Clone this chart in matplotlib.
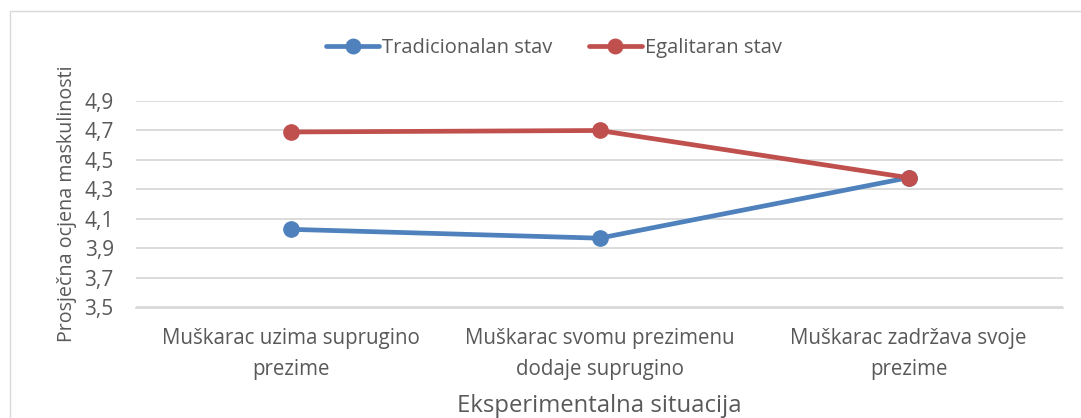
import matplotlib
matplotlib.use("Agg")
import matplotlib.pyplot as plt
from matplotlib.patches import Rectangle

categories = ["Muškarac uzima suprugino\nprezime",
              "Muškarac svomu prezimenu\ndodaje suprugino",
              "Muškarac zadržava svoje\nprezime"]
tradicionalan = [4.03, 3.97, 4.38]
egalitaran = [4.69, 4.70, 4.38]
yticks = [3.5, 3.7, 3.9, 4.1, 4.3, 4.5, 4.7, 4.9]
ytick_labels = ["3,5", "3,7", "3,9", "4,1", "4,3", "4,5", "4,7", "4,9"]

plt.rcParams['font.family'] = ['Open Sans', 'DejaVu Sans']
txt = "#595959"
grid = "#d9d9d9"

fig = plt.figure(figsize=(10.81, 4.18), dpi=100)
fig.patches.append(Rectangle((10/1081, -0.1), 1.2, 1 - 11/418 + 0.1,
                             transform=fig.transFigure, fill=False,
                             edgecolor=grid, linewidth=1.0))
ax = fig.add_axes([136/1081, 1 - 307.5/418, (1063-136)/1081, (307.5-101)/418])

x = list(range(len(categories)))
ax.plot(x, tradicionalan, color="#4f81bd", linewidth=3.4, marker="o",
        markersize=11, label="Tradicionalan stav", solid_capstyle="round", zorder=3)
ax.plot(x, egalitaran, color="#c0504d", linewidth=3.4, marker="o",
        markersize=11, label="Egalitaran stav", solid_capstyle="round", zorder=3)

ax.set_xlim(-0.5, 2.5)
ax.set_ylim(3.5, 4.9)
ax.set_yticks(yticks)
ax.set_yticklabels(ytick_labels, fontsize=15)
ax.set_xticks(x)
ax.set_xticklabels(categories, linespacing=1.6, fontsize=14.8)
ax.grid(axis="y", color=grid, linewidth=1.3)
ax.set_axisbelow(True)
for s in ["top", "right", "left"]:
    ax.spines[s].set_visible(False)
ax.spines["bottom"].set_color(grid)
ax.spines["bottom"].set_linewidth(1.3)
ax.tick_params(axis="both", length=0, colors=txt)
ax.tick_params(axis="y", pad=16)
ax.tick_params(axis="x", pad=15)
ax.set_ylabel("Prosječna ocjena maskulinosti", color=txt, fontsize=14.2, labelpad=5)
ax.set_xlabel("Eksperimentalna situacija", color=txt, fontsize=17.2, labelpad=10)

leg = ax.legend(loc="center", bbox_to_anchor=(554/1081, 1 - 48/418),
                bbox_transform=fig.transFigure, ncol=2, frameon=False,
                fontsize=14.5, handlelength=2.6, columnspacing=1.85,
                handletextpad=0.15, markerscale=0.95)
for t in leg.get_texts():
    t.set_color(txt)

fig.savefig("out.png", dpi=100)
